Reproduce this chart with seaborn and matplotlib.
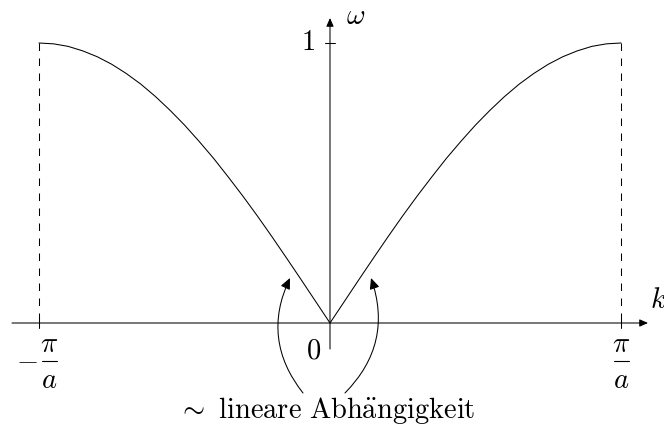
import numpy as np
import pandas as pd
import matplotlib
matplotlib.use("Agg")
import matplotlib.pyplot as plt
import seaborn as sns

# Dispersion branch omega(k) for k >= 0 (k in units of pi/a, omega normalised)
k_half = [0.00, 0.05, 0.10, 0.15, 0.20, 0.25, 0.30, 0.35, 0.40, 0.45, 0.50,
          0.55, 0.60, 0.65, 0.70, 0.75, 0.80, 0.85, 0.90, 0.95, 1.00]
omega_half = [0.000, 0.078, 0.156, 0.233, 0.309, 0.383, 0.454, 0.522, 0.588,
              0.649, 0.707, 0.760, 0.809, 0.853, 0.891, 0.924, 0.951, 0.972,
              0.988, 0.997, 1.000]

# Zone boundaries (in units of pi/a) and the marked omega value
zone_edges = [-1.0, 1.0]
omega_max = 1.0

# Full Brillouin zone: mirror the branch onto negative k
k_full = [-k for k in k_half[::-1]] + k_half[1:]
omega_full = omega_half[::-1] + omega_half[1:]
df = pd.DataFrame({"k": k_full, "omega": omega_full})

sns.set_theme(style="white")
plt.rcParams["mathtext.fontset"] = "cm"
plt.rcParams["font.family"] = ["DejaVu Serif"]

fig = plt.figure(figsize=(6.64, 4.29), dpi=100)
ax = fig.add_axes([0, 0, 1, 1])
ax.set_xlim(-330 / 291, 334 / 291)
ax.set_ylim(-106 / 280, 323 / 280)
ax.axis("off")

lw = 0.75
fs = 20.5
px_x = 1 / 291   # one pixel in k units
px_y = 1 / 280   # one pixel in omega units

sns.lineplot(data=df, x="k", y="omega", sort=False, estimator=None,
             color="black", lw=lw, ax=ax)

# Coordinate axes with arrow heads
axis_arrow = dict(arrowstyle="-|>,head_length=0.5,head_width=0.22",
                  color="black", lw=lw, shrinkA=0, shrinkB=0, mutation_scale=10)
ax.annotate("", xy=(318 * px_x, 0), xytext=(-318 * px_x, 0), arrowprops=axis_arrow)
ax.annotate("", xy=(0, 305 * px_y), xytext=(0, -26 * px_y), arrowprops=axis_arrow)


def pi_over_a(xc, yc):
    """Display-style fraction pi/a centred at (xc, yc)."""
    ax.plot([xc - 7.5 * px_x, xc + 7.5 * px_x], [yc, yc], color="black", lw=0.8)
    ax.text(xc, yc + 16 * px_y, r"$\pi$", ha="center", va="center",
            fontsize=fs, color="black")
    ax.text(xc, yc - 19 * px_y, r"$a$", ha="center", va="center",
            fontsize=fs, color="black")


# Dashed zone boundaries, their ticks and labels
for xe in zone_edges:
    ax.plot([xe, xe], [omega_max, 0], color="black", lw=lw,
            linestyle=(0, (7.2, 7.2)))
    ax.plot([xe, xe], [-5 * px_y, 5 * px_y], color="black", lw=lw)
    if xe < 0:
        ax.text(xe - 12 * px_x, -38 * px_y, r"$-$", ha="center", va="center",
                fontsize=fs, color="black")
        pi_over_a(xe + 10.5 * px_x, -38 * px_y)
    else:
        pi_over_a(xe, -38 * px_y)

# Tick and label for omega = 1
ax.plot([-5 * px_x, 5 * px_x], [omega_max, omega_max], color="black", lw=lw)
ax.text(-15 * px_x, omega_max, r"$1$", ha="right", va="center",
        fontsize=fs, color="black")

ax.text(-16 * px_x, -28 * px_y, r"$0$", ha="center", va="center",
        fontsize=fs, color="black")
ax.text(26 * px_x, 306 * px_y, r"$\omega$", ha="center", va="center",
        fontsize=fs, color="black")
ax.text(328 * px_x, 23 * px_y, r"$k$", ha="center", va="center",
        fontsize=fs, color="black")

# Annotation of the linear region near k = 0
ax.text(-3 * px_x, -88 * px_y,
        r"$\sim\ \mathrm{lineare\ Abh\ddot{a}ngigkeit}$",
        ha="center", va="center", fontsize=fs, color="black")
curve_arrow = dict(arrowstyle="-|>,head_length=0.55,head_width=0.25",
                   color="black", lw=lw, shrinkA=0, shrinkB=0, mutation_scale=12)
ax.annotate("", xy=(-40 * px_x, 45 * px_y), xytext=(-27 * px_x, -70 * px_y),
            arrowprops={**curve_arrow, "connectionstyle": "arc3,rad=-0.31"})
ax.annotate("", xy=(41 * px_x, 45 * px_y), xytext=(15 * px_x, -70 * px_y),
            arrowprops={**curve_arrow, "connectionstyle": "arc3,rad=0.31"})

fig.savefig("out.png", dpi=100)
